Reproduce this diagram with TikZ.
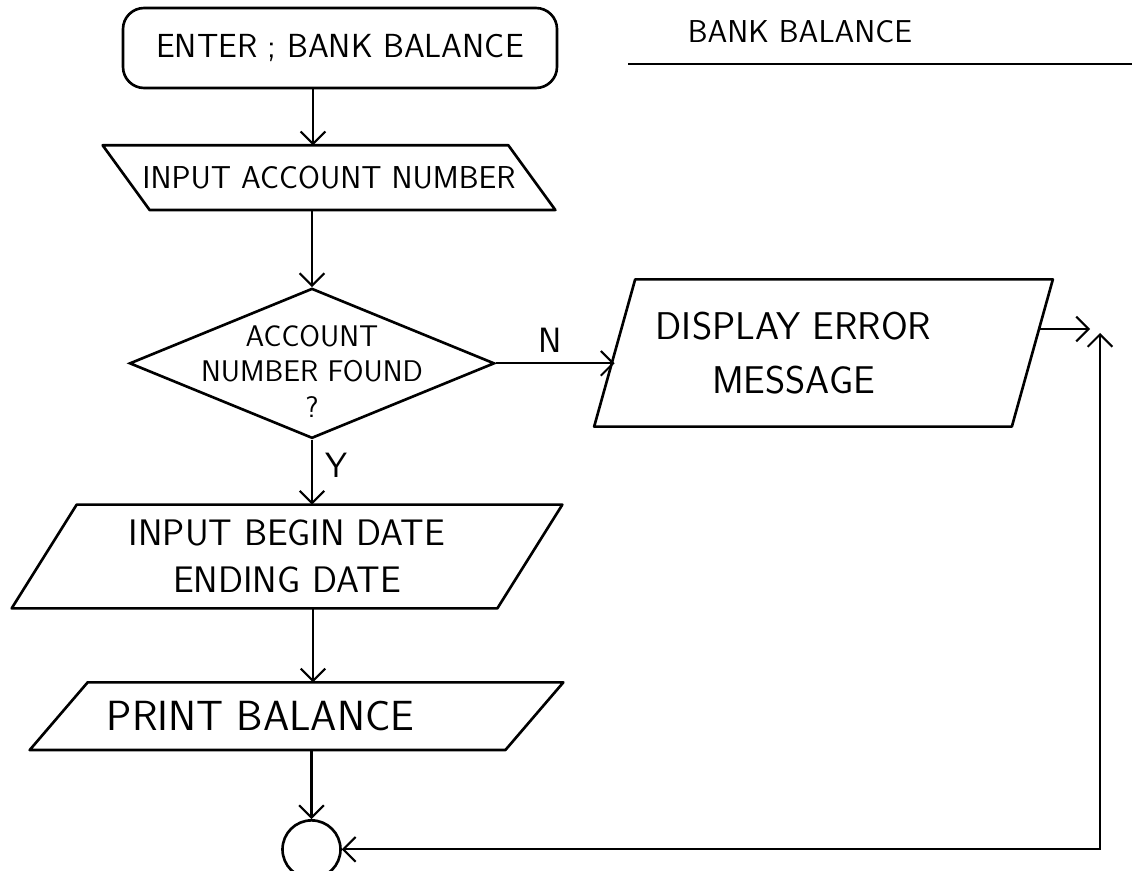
\documentclass[tikz,border=0pt]{standalone}
\usepackage{tikz}
\usetikzlibrary{arrows.meta,positioning,shapes.geometric}
\newcommand{\hand}[2]{\sffamily\fontsize{#1}{#2}\selectfont}
% parallelogram outline round a body node: #1 node, #2 half slant
\newcommand{\slantframe}[2]{%
  \draw[ioline] ([xshift=#2]#1.north west) -- ([xshift=#2]#1.north east)
    -- ([xshift=-(#2)]#1.south east) -- ([xshift=-(#2)]#1.south west) -- cycle;}

\begin{document}
\begin{tikzpicture}[
    node distance=1.2cm,
    terminal/.style={
      rectangle, rounded corners=12pt, draw, line width=1.5pt,
      minimum width=8.68cm, minimum height=1.6cm, inner sep=1pt,
      font=\hand{19}{24}
    },
    iobox/.style={
      rectangle, inner sep=0pt
    },
    ioline/.style={
      line width=1.5pt, line join=round
    },
    decision/.style={
      diamond, draw, line width=1.5pt,
      minimum width=7.3cm, minimum height=3cm, inner sep=0pt
    },
    endcircle/.style={
      circle, draw, line width=1.5pt, minimum size=1.16cm, inner sep=0pt
    },
    flow/.style={
      -{Straight Barb[length=7pt,width=14pt]}, line width=1.2pt
    },
    flowboth/.style={
      {Straight Barb[length=7pt,width=14pt]}-{Straight Barb[length=7pt,width=14pt]},
      line width=1.2pt
    },
    yesno/.style={font=\hand{20}{24}}
  ]
  \useasboundingbox (0,0) rectangle (22.64,-17.42);
  \coordinate (spine) at (6.26,0);

  % --- main column ---
  \node[terminal] (enter) at (6.8,-0.96) {ENTER ; BANK BALANCE};
  \node[iobox, below=1.12cm of enter, xshift=-0.22cm,
    minimum width=8.1cm, minimum height=1.28cm,
    label={[font=\hand{18}{24}]center:INPUT ACCOUNT NUMBER}] (inacc) {};
  \node[decision, below=1.54cm of inacc, xshift=-0.34cm,
    label={[font=\hand{17}{20}, align=center, yshift=-0.16cm]center:ACCOUNT\\NUMBER FOUND\\?}] (found) {};
  \node[iobox, below=1.3cm of found, xshift=-0.5cm,
    minimum width=9.7cm, minimum height=2.06cm,
    label={[font=\hand{21}{27}, align=center]center:INPUT BEGIN DATE\\ENDING DATE}] (dates) {};
  \node[iobox, below=1.48cm of dates, xshift=0.19cm,
    minimum width=9.5cm, minimum height=1.34cm,
    label={[font=\hand{24}{26}, xshift=-0.72cm]center:PRINT BALANCE}] (print) {};
  \node[endcircle, below=1.38cm of print, xshift=0.3cm] (halt) {};
  \slantframe{inacc}{-0.47cm}
  \slantframe{dates}{0.65cm}
  \slantframe{print}{0.58cm}

  % --- error branch ---
  \node[iobox, minimum width=8.34cm, minimum height=2.93cm,
    label={[font=\hand{22}{31}, align=center, xshift=-0.6cm]center:DISPLAY ERROR\\MESSAGE}]
    (err) at (16.47,-7.06) {};
  \slantframe{err}{0.41cm}
  \coordinate (joinR) at (21.8,-6.58);
  \coordinate (joinU) at (22.0,-6.66);

  % --- title ---
  \node[font=\hand{18}{20}] (title) at (16.0,-0.64) {BANK BALANCE};
  \coordinate (ruleL) at (12.56,-1.28);
  \coordinate (ruleR) at (22.64,-1.28);
  \draw[line width=1.4pt] (ruleL) -- (ruleR);

  % --- connectors ---
  \draw[flow] (enter.south -| spine) -- (inacc.north -| spine);
  \draw[flow] (inacc.south -| found.north) -- (found.north);
  \draw[flow] (found.south) -- (dates.north -| found.south)
    node[yesno, pos=0.4, right=4pt] {Y};
  \draw[flow] (dates.south -| spine) -- (print.north -| spine);
  \draw[flow] (print.south -| halt.north) -- (halt.north);
  \draw[flow] (found.east) -- (found.east -| err.west)
    node[yesno, pos=0.46, above=2pt] {N};
  \draw[flow] ([xshift=0.13cm]err.east |- joinR) -- (joinR);
  \draw[flowboth] (joinU) |- (halt.east);
\end{tikzpicture}
\end{document}
